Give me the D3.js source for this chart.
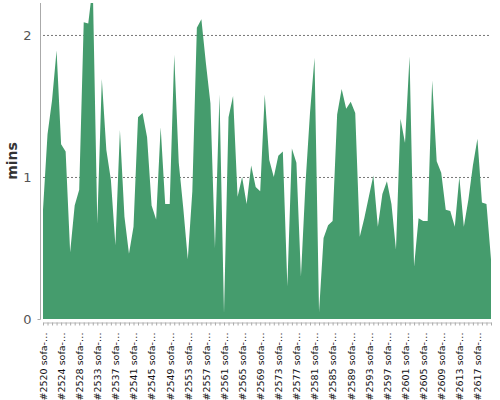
<!DOCTYPE html>
<html lang="en">
<head>
	<meta charset="utf-8">
	<title>Build minutes</title>
	<script src="https://d3js.org/d3.v7.min.js" charset="utf-8"></script>
	<style>
	body { margin: 0; background: #fff; }
	text { font-family: "DejaVu Sans", sans-serif; }
	</style>
</head>
<body>
	<script>
	// PR numbers along the x axis (2530 is not in the run)
	var prs = [2520, 2521, 2522, 2523, 2524, 2525, 2526, 2527, 2528, 2529,
		2531, 2532, 2533, 2534, 2535, 2536, 2537, 2538, 2539, 2540,
		2541, 2542, 2543, 2544, 2545, 2546, 2547, 2548, 2549, 2550,
		2551, 2552, 2553, 2554, 2555, 2556, 2557, 2558, 2559, 2560,
		2561, 2562, 2563, 2564, 2565, 2566, 2567, 2568, 2569, 2570,
		2571, 2572, 2573, 2574, 2575, 2576, 2577, 2578, 2579, 2580,
		2581, 2582, 2583, 2584, 2585, 2586, 2587, 2588, 2589, 2590,
		2591, 2592, 2593, 2594, 2595, 2596, 2597, 2598, 2599, 2600,
		2601, 2602, 2603, 2604, 2605, 2606, 2607, 2608, 2609, 2610,
		2611, 2612, 2613, 2614, 2615, 2616, 2617, 2618, 2619, 2620];

	// duration of each run, in minutes
	var mins = [0.77, 1.30, 1.54, 1.89, 1.23, 1.18, 0.47, 0.80, 0.91, 2.09,
		2.08, 2.35, 0.67, 1.69, 1.19, 0.98, 0.52, 1.33, 0.72, 0.46,
		0.65, 1.42, 1.45, 1.28, 0.80, 0.70, 1.35, 0.81, 0.81, 1.86,
		1.10, 0.78, 0.42, 0.90, 2.05, 2.11, 1.80, 1.52, 0.50, 1.58,
		0.04, 1.42, 1.57, 0.86, 1.00, 0.81, 1.08, 0.93, 0.90, 1.58,
		1.12, 1.00, 1.15, 1.18, 0.23, 1.20, 1.10, 0.30, 0.95, 1.45,
		1.84, 0.05, 0.57, 0.66, 0.69, 1.44, 1.62, 1.48, 1.53, 1.45,
		0.58, 0.71, 0.86, 1.01, 0.65, 0.88, 0.97, 0.81, 0.49, 1.41,
		1.24, 1.85, 0.37, 0.71, 0.69, 0.69, 1.68, 1.11, 1.03, 0.77,
		0.76, 0.65, 1.00, 0.65, 0.84, 1.08, 1.27, 0.82, 0.81, 0.42];

	var yTicks = [0, 1, 2];

	var labels = prs.map(function(p) { return "#" + p + " sofa-\u2026"; });
	var data = labels.map(function(l, i) { return { label: l, mins: mins[i] }; });

	// plot box (note: "top" is taken by window, so use other names)
	var w = 500;
	var h = 400;
	var plotL = 43, plotR = 491, plotT = 3, plotB = 319;

	var x = d3.scalePoint()
		.domain(labels)
		.range([plotL, plotR]);

	var y = d3.scaleLinear()
		.domain([0, 2.225])
		.range([plotB, plotT]);

	var svg = d3.select("body")
		.append("svg")
		.attr("width", w)
		.attr("height", h);

	// clip so the tallest peak is cut at the top
	svg.append("clipPath")
		.attr("id", "plot")
		.append("rect")
		.attr("x", plotL)
		.attr("y", plotT)
		.attr("width", plotR - plotL)
		.attr("height", plotB - plotT);

	// dashed grid lines
	svg.selectAll("line.grid")
		.data(yTicks.filter(function(t) { return t > 0; }))
		.enter()
		.append("line")
		.attr("class", "grid")
		.attr("x1", plotL)
		.attr("x2", plotR)
		.attr("y1", function(d) { return y(d) + 0.5; })
		.attr("y2", function(d) { return y(d) + 0.5; })
		.attr("stroke", "#777")
		.attr("stroke-width", 1)
		.attr("stroke-dasharray", "2,2");

	// the area itself
	var area = d3.area()
		.x(function(d) { return x(d.label); })
		.y0(y(0))
		.y1(function(d) { return y(d.mins); });

	svg.append("path")
		.datum(data)
		.attr("clip-path", "url(#plot)")
		.attr("d", area)
		.attr("fill", "#459c6d");

	// y axis
	var yAxis = svg.append("g")
		.attr("transform", "translate(40.5,0)")
		.call(d3.axisLeft(y).tickValues(yTicks).tickFormat(d3.format("d"))
			.tickSize(0).tickPadding(9));
	yAxis.select(".domain")
		.attr("d", "M0," + plotT + "V" + (plotB + 0.5) + "H-3")
		.attr("stroke", "#aaa");
	yAxis.selectAll("text")
		.attr("font-size", 13)
		.attr("fill", "#555");

	// x axis, label on every 4th PR
	var xAxis = svg.append("g")
		.attr("transform", "translate(0,322.5)")
		.call(d3.axisBottom(x).tickSize(3).tickSizeOuter(0)
			.tickFormat(function(d, i) { return i % 4 === 0 ? d : ""; }));
	xAxis.select(".domain").attr("stroke", "#bbb");
	xAxis.selectAll(".tick line").attr("stroke", "#aaa");
	xAxis.selectAll("text")
		.attr("font-size", 9.5)
		.attr("fill", "#111")
		.attr("text-anchor", "end")
		.attr("transform", "rotate(-90)")
		.attr("x", -10)
		.attr("y", 0)
		.attr("dy", "0.35em");

	// y axis title
	svg.append("text")
		.attr("text-anchor", "middle")
		.attr("transform", "translate(17," + ((plotT + plotB) / 2) + ") rotate(-90)")
		.attr("font-size", 14)
		.attr("font-weight", "bold")
		.attr("fill", "#333")
		.text("mins");
	</script>
</body>
</html>
